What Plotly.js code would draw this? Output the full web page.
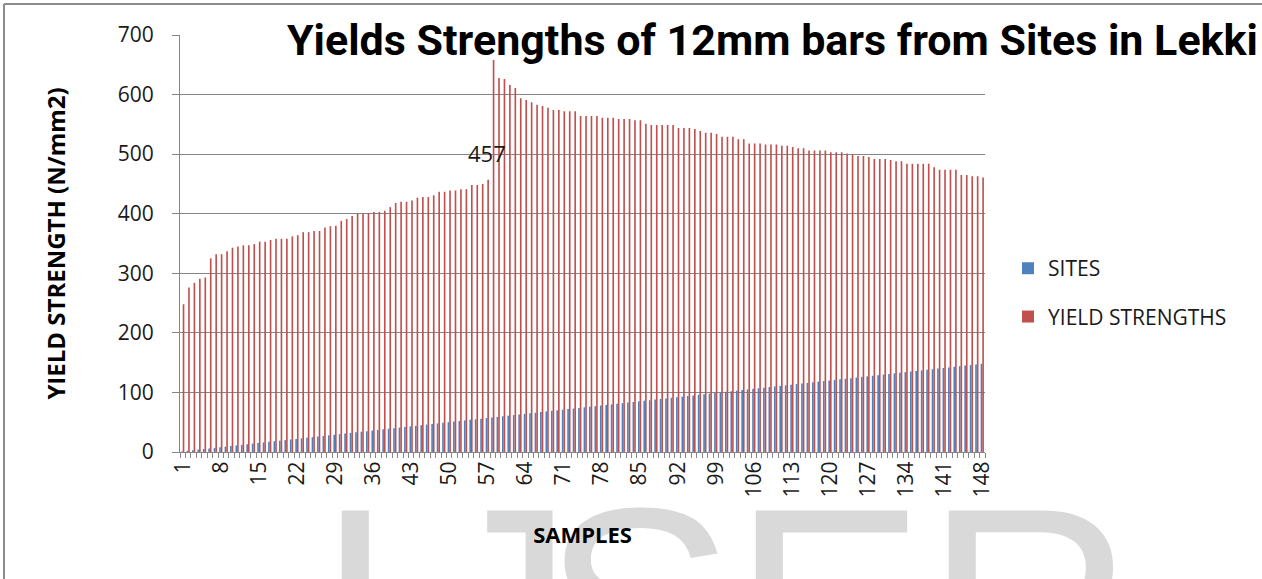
<!DOCTYPE html>
<html>
<head>
<meta charset="utf-8">
<script src="https://cdn.plot.ly/plotly-3.0.1.min.js"></script>
<style>
  html, body { margin: 0; padding: 0; background: #ffffff; }
  #wrap { position: relative; width: 1262px; height: 579px; overflow: hidden; background: #ffffff; }
  #bg { position: absolute; left: 0; top: 0; width: 1262px; height: 579px; z-index: 0; }
  #chart { position: absolute; left: 0; top: 0; width: 1262px; height: 579px; z-index: 1; }
</style>
</head>
<body>
<div id="wrap">
  <svg id="bg" width="1262" height="579" xmlns="http://www.w3.org/2000/svg">
    <text y="710" font-family="Liberation Sans, Arial, sans-serif" font-size="290" fill="#d9d9d9"><tspan x="315">I</tspan><tspan x="429">J</tspan><tspan x="542">S</tspan><tspan x="732">E</tspan><tspan x="925">R</tspan></text>
    <line x1="4" y1="4" x2="1262" y2="4" stroke="#8c8c8c" stroke-width="2"/>
    <line x1="4" y1="4" x2="4" y2="579" stroke="#8c8c8c" stroke-width="2"/>
  </svg>
  <div id="chart"></div>
</div>
<script>
// Sample numbers (categories)
const samples = [1,2,3,4,5,6,7,8,9,10,11,12,13,14,15,16,17,18,19,20,21,22,23,24,25,26,27,28,29,30,
  31,32,33,34,35,36,37,38,39,40,41,42,43,44,45,46,47,48,49,50,51,52,53,54,55,56,57,58,59,60,
  61,62,63,64,65,66,67,68,69,70,71,72,73,74,75,76,77,78,79,80,81,82,83,84,85,86,87,88,89,90,
  91,92,93,94,95,96,97,98,99,100,101,102,103,104,105,106,107,108,109,110,111,112,113,114,115,116,117,118,119,120,
  121,122,123,124,125,126,127,128,129,130,131,132,133,134,135,136,137,138,139,140,141,142,143,144,145,146,147,148];

// SITES series (as plotted in the reference)
const sites = [1,2,3,4,5,6,7,8,9,10,11,12,13,14,15,16,17,18,19,20,21,22,23,24,25,26,27,28,29,30,
  31,32,33,34,35,36,37,38,39,40,41,42,43,44,45,46,47,48,49,50,51,52,53,54,55,56,57,58,59,60,
  61,62,63,64,65,66,67,68,69,70,71,72,73,74,75,76,77,78,79,80,81,82,83,84,85,86,87,88,89,90,
  91,92,93,94,95,96,97,98,99,100,101,102,103,104,105,106,107,108,109,110,111,112,113,114,115,116,117,118,119,120,
  121,122,123,124,125,126,127,128,129,130,131,132,133,134,135,136,137,138,139,140,141,142,143,144,145,146,147,148];

// YIELD STRENGTHS series (N/mm2)
const yieldStrengths = [
  248,276,284,291,293,325,332,332,337,343,345,347,347,349,353,353,356,358,358,358,362,364,369,369,371,371,377,379,
  380,388,391,396,400,400,401,403,403,405,411,418,420,420,422,427,428,428,431,437,437,439,439,441,441,448,448,450,457,
  658,628,626,616,611,594,591,587,583,581,578,574,574,572,572,572,564,564,564,564,561,561,561,559,559,559,557,557,
  551,549,549,549,549,549,544,544,544,542,539,536,536,534,529,529,529,525,
  525,518,518,518,516,516,516,514,514,512,510,510,506,506,506,506,503,503,503,501,499,497,497,495,492,492,492,
  490,488,488,484,484,484,484,484,478,474,474,474,474,465,465,463,463,461];

// X tick labels shown (every 7th sample)
const xTickVals = [1,8,15,22,29,36,43,50,57,64,71,78,85,92,99,106,113,120,127,134,141,148];
const xTickText = ["1","8","15","22","29","36","43","50","57","64","71","78","85","92","99","106","113","120","127","134","141","148"];

// Labelled point
const labelIndex = 56;

const gridGray = '#868686';
const textFont = 'Open Sans, Lato, sans-serif';

const traces = [
  {
    type: 'bar', name: 'SITES', x: samples, y: sites,
    marker: { color: '#4F81BD', line: { width: 0 } },
    legendgroup: 'a'
  },
  {
    type: 'bar', name: 'YIELD STRENGTHS', x: samples, y: yieldStrengths,
    marker: { color: '#C0504D', line: { width: 0 } },
    legendgroup: 'b'
  }
];

const layout = {
  width: 1262, height: 579,
  margin: { l: 179.5, r: 277, t: 35, b: 127, pad: 0 },
  paper_bgcolor: 'rgba(0,0,0,0)',
  plot_bgcolor: 'rgba(0,0,0,0)',
  barmode: 'group',
  bargap: 0.4,
  bargroupgap: 0,
  title: {
    text: 'Yields Strengths of 12mm bars from Sites in Lekki',
    font: { family: 'Roboto, sans-serif', size: 43, color: '#000000', weight: 'bold' },
    xref: 'container', yref: 'container',
    x: 287 / 1262, xanchor: 'left',
    y: 1 - 40 / 579, yanchor: 'middle'
  },
  xaxis: {
    type: 'linear',
    range: [0.5, 148.5],
    tickmode: 'array', tickvals: xTickVals, ticktext: xTickText,
    tickangle: -90,
    ticks: '',
    showgrid: false, zeroline: false,
    showline: true, linecolor: gridGray, linewidth: 1,
    tickfont: { family: textFont, size: 21, color: '#1a1a1a' },
    minor: { tickmode: 'linear', tick0: 0.5, dtick: 1, ticks: 'outside', ticklen: 5, tickcolor: gridGray, tickwidth: 1, showgrid: false },
    title: { text: 'SAMPLES', font: { family: textFont, size: 22, color: '#000000', weight: 'bold' }, standoff: 31 }
  },
  yaxis: {
    range: [0, 700], dtick: 100, tick0: 0,
    showgrid: true, gridcolor: gridGray, gridwidth: 1,
    zeroline: false,
    showline: true, linecolor: gridGray, linewidth: 1,
    ticks: 'outside', ticklen: 7, tickcolor: gridGray,
    ticklabelstandoff: 14,
    tickfont: { family: textFont, size: 21, color: '#1a1a1a' },
    title: { text: 'YIELD STRENGTH (N/mm2)', font: { family: textFont, size: 24, color: '#000000', weight: 'bold' }, standoff: 45 }
  },
  showlegend: true,
  legend: {
    x: 1.0286, xanchor: 'left', y: 0.489, yanchor: 'top',
    font: { family: textFont, size: 21, color: '#1a1a1a' },
    traceorder: 'grouped', tracegroupgap: 18,
    bgcolor: 'rgba(0,0,0,0)'
  },
  annotations: [
    {
      x: samples[labelIndex], y: yieldStrengths[labelIndex], xref: 'x', yref: 'y',
      text: String(yieldStrengths[labelIndex]), showarrow: false,
      yanchor: 'middle', yshift: 27,
      font: { family: textFont, size: 22, color: '#1a1a1a' }
    }
  ]
};

Plotly.newPlot('chart', traces, layout, { displayModeBar: false, staticPlot: true });
</script>
</body>
</html>
